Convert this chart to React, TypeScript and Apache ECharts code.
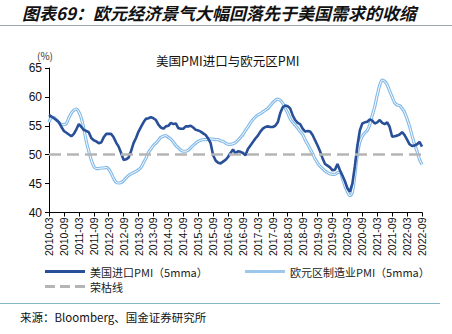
import React, { useEffect, useRef } from "react";
import * as echarts from "echarts";

const usImport: number[] = [
  56.9, 56.6, 56.3, 56.0, 55.6, 54.8, 54.1, 53.8, 53.5, 53.2,
  53.6, 54.4, 55.3, 54.8, 54.3, 54.1, 53.9, 52.9, 52.5, 52.3,
  52.0, 52.1, 53.0, 53.6, 53.6, 53.6, 53.0, 52.1, 51.4, 50.3,
  49.1, 49.2, 49.5, 50.6, 52.0, 52.9, 54.0, 54.8, 55.6, 56.2,
  56.3, 56.5, 56.3, 56.0, 55.2, 54.7, 54.5, 54.9, 55.0, 55.5,
  55.3, 55.4, 54.6, 54.5, 54.5, 54.9, 54.9, 55.0, 54.7, 54.3,
  54.2, 54.0, 53.7, 53.4, 52.8, 52.0, 49.9, 49.0, 48.6, 48.5,
  48.8, 49.1, 49.6, 50.3, 50.9, 50.2, 50.6, 50.5, 50.3, 49.9,
  51.0, 51.6, 52.2, 52.8, 53.3, 54.0, 54.5, 54.8, 54.9, 54.8,
  54.8, 55.0, 55.6, 57.2, 58.2, 58.5, 58.4, 58.0, 56.8, 56.0,
  55.5, 55.3, 54.5, 54.0, 54.1, 54.0, 53.4, 52.5, 51.6, 50.6,
  49.4, 48.4, 48.1, 47.8, 47.3, 47.4, 48.4, 47.3, 46.4, 45.4,
  44.2, 43.6, 45.0, 48.0, 51.5, 54.2, 55.4, 55.6, 55.7, 56.1,
  55.9, 55.4, 55.6, 56.0, 55.5, 55.3, 55.6, 54.8, 53.1, 53.2,
  53.3, 53.5, 53.9, 53.4, 52.6, 51.8, 51.5, 51.6, 51.8, 52.2,
  51.4,
];

const euroPmi: number[] = [
  55.6, 56.4, 56.4, 56.0, 55.6, 55.2, 55.2, 55.4, 56.4, 57.2,
  57.7, 57.9, 57.4, 56.3, 54.5, 52.3, 50.6, 49.1, 48.0, 47.6,
  47.6, 47.7, 47.7, 47.8, 47.5, 46.8, 45.9, 45.2, 45.1, 45.2,
  45.5, 46.0, 46.4, 46.7, 46.9, 47.1, 47.4, 47.8, 48.6, 49.4,
  50.4, 51.0, 51.6, 52.0, 52.5, 53.0, 53.2, 53.3, 53.0, 52.7,
  52.2, 51.6, 51.2, 50.8, 50.6, 50.6, 50.8, 51.2, 51.6, 52.0,
  52.3, 52.5, 52.6, 52.6, 52.7, 52.7, 52.7, 52.6, 52.6, 52.4,
  52.3, 52.0, 51.8, 51.8, 51.9, 52.1, 52.5, 53.0, 53.5, 54.2,
  54.8, 55.5, 56.1, 56.5, 56.9, 57.1, 57.4, 57.7, 58.0, 58.5,
  59.0, 59.4, 59.6, 59.4, 58.9, 58.0, 57.2, 56.2, 55.6, 55.1,
  54.6, 54.0, 53.5, 52.6, 51.8, 51.0, 50.2, 49.3, 48.6, 48.0,
  47.6, 47.2, 46.9, 46.7, 46.6, 46.6, 46.9, 47.0, 45.9, 44.6,
  43.6, 42.9, 43.5, 46.5, 50.0, 52.2, 53.2, 53.8, 54.2, 55.2,
  56.8, 58.3, 60.3, 62.0, 62.9, 62.7, 62.1, 61.0, 60.0, 59.0,
  58.6, 58.5, 58.0, 57.3, 56.2, 54.9, 53.3, 51.8, 50.6, 49.2,
  48.3,
];

const boomBustLevel = 50;
const startYear = 2010;
const startMonth = 3;

const categories: string[] = [];
for (let i = 0; i < usImport.length; i++) {
  const m = startMonth - 1 + i;
  const y = startYear + Math.floor(m / 12);
  const mm = (m % 12) + 1;
  categories.push(`${y}-${mm < 10 ? "0" + mm : mm}`);
}

const yTicks = { min: 40, max: 65, interval: 5 };

const NAME_US = "美国进口PMI（5mma）";
const NAME_EU = "欧元区制造业PMI（5mma）";
const NAME_LINE = "荣枯线";

const CJK = "'Noto Sans CJK SC', sans-serif";
const NUM = "'Liberation Sans', Arial, sans-serif";

const SOLID_ICON = "path://M0,0 L40,0 L40,3 L0,3 Z";
const DASH_ICON =
  "path://M0,0 L10,0 L10,3 L0,3 Z M15,0 L25,0 L25,3 L15,3 Z M30,0 L40,0 L40,3 L30,3 Z";

export default function App() {
  const ref = useRef<HTMLDivElement>(null);
  useEffect(() => {
    if (!ref.current) return;
    const chart = echarts.init(ref.current, null, { renderer: "svg" });
    const legendText = { fontSize: 11, color: "#222", fontFamily: CJK };
    const legendBase = {
      itemWidth: 40,
      itemHeight: 3,
      itemGap: 6,
      textStyle: legendText,
    };
    chart.setOption({
      animation: false,
      backgroundColor: "#fff",
      grid: { left: 49, right: 30, top: 68, bottom: 121.5 },
      xAxis: {
        type: "category",
        data: categories,
        boundaryGap: false,
        axisLine: { lineStyle: { color: "#000", width: 1 } },
        axisTick: { interval: 5, length: 4, lineStyle: { color: "#000" } },
        axisLabel: {
          interval: 5,
          rotate: 90,
          fontSize: 10.5,
          color: "#111",
          fontFamily: NUM,
          margin: 5,
        },
        splitLine: { show: false },
      },
      yAxis: {
        type: "value",
        min: yTicks.min,
        max: yTicks.max,
        interval: yTicks.interval,
        axisLine: { show: true, lineStyle: { color: "#000", width: 1 } },
        axisTick: { show: true, length: 4, lineStyle: { color: "#000" } },
        axisLabel: { fontSize: 12, color: "#111", fontFamily: NUM, margin: 7 },
        splitLine: { show: false },
      },
      legend: [
        {
          ...legendBase,
          data: [{ name: NAME_US, icon: SOLID_ICON }],
          left: 40,
          top: 261,
        },
        {
          ...legendBase,
          data: [{ name: NAME_EU, icon: SOLID_ICON }],
          left: 240,
          top: 261,
        },
        {
          ...legendBase,
          data: [{ name: NAME_LINE, icon: DASH_ICON }],
          left: 40,
          top: 276,
        },
      ],
      series: [
        {
          name: NAME_EU,
          type: "line",
          data: euroPmi,
          symbol: "none",
          smooth: 0.3,
          lineStyle: { color: "#85bbe8", width: 3.2 },
          itemStyle: { color: "#9cc8ee" },
          z: 2,
        },
        {
          name: "eu-core",
          type: "line",
          data: euroPmi,
          symbol: "none",
          smooth: 0.3,
          lineStyle: { color: "#ffffff", width: 1 },
          itemStyle: { color: "#ffffff" },
          z: 3,
          silent: true,
        },
        {
          name: NAME_LINE,
          type: "line",
          data: [],
          symbol: "none",
          lineStyle: { color: "#b5b5b5", width: 2.5, type: [9, 6] },
          itemStyle: { color: "#b5b5b5" },
          markLine: {
            silent: true,
            symbol: "none",
            label: { show: false },
            lineStyle: { color: "#b5b5b5", width: 2.5, type: [12, 6] },
            data: [{ yAxis: boomBustLevel }],
          },
          z: 1,
        },
        {
          name: NAME_US,
          type: "line",
          data: usImport,
          symbol: "none",
          lineStyle: { color: "#284f97", width: 2.6 },
          itemStyle: { color: "#284f97" },
          z: 4,
        },
      ],
      graphic: [
        {
          type: "text",
          left: 22,
          top: 4,
          style: {
            text: "图表69：欧元经济景气大幅回落先于美国需求的收缩",
            fontSize: 17,
            fontWeight: "bold",
            fontStyle: "italic",
            fontFamily: CJK,
            fill: "#111",
          },
        },
        {
          type: "line",
          shape: { x1: 0, y1: 25.5, x2: 452, y2: 25.5 },
          style: { stroke: "#9aa6b2", lineWidth: 1 },
        },
        {
          type: "text",
          left: 37,
          top: 50,
          style: { text: "(%)", fontSize: 10, fontFamily: CJK, fill: "#333" },
        },
        {
          type: "text",
          left: 156,
          top: 54,
          style: {
            text: "美国PMI进口与欧元区PMI",
            fontSize: 12.5,
            fontFamily: CJK,
            fill: "#111",
          },
        },
        {
          type: "line",
          shape: { x1: 0, y1: 303.5, x2: 440, y2: 303.5 },
          style: { stroke: "#86b6c6", lineWidth: 1 },
        },
        {
          type: "text",
          left: 20,
          top: 311,
          style: {
            text: "来源：Bloomberg、国金证券研究所",
            fontSize: 11.5,
            fontFamily: CJK,
            fill: "#111",
          },
        },
      ],
    });
    return () => chart.dispose();
  }, []);
  return (
    <div
      ref={ref}
      style={{ position: "fixed", left: 0, top: 0, width: 452, height: 334 }}
    />
  );
}
